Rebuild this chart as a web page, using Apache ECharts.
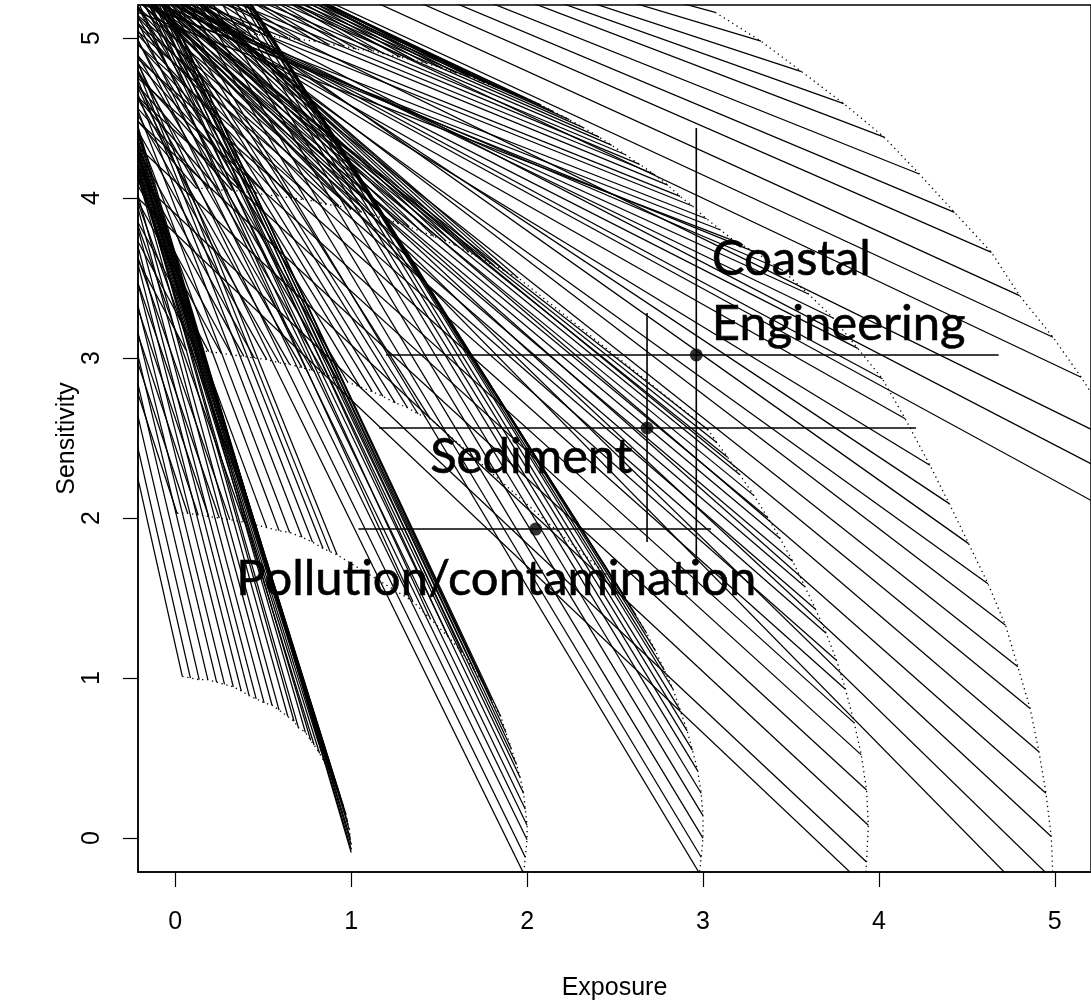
<!DOCTYPE html>
<html><head><meta charset="utf-8">
<script src="https://cdn.jsdelivr.net/npm/echarts@6/dist/echarts.min.js"></script>
<style>html,body{margin:0;padding:0;background:#fff}#c{width:1091px;height:1007px}</style>
</head><body><div id="c"></div>
<script>
// ---- data ----
const ticks = [0, 1, 2, 3, 4, 5];
const startE = -0.213; // exposure where the fan lines enter (left frame)

// group 1 (ends near radius 1)
const g1E = [0.04,0.086,0.136,0.185,0.235,0.28,0.33,0.375,0.42,0.46,0.505,0.55,0.59,0.64,0.675,0.70,0.74,0.77,
             0.79,0.82,0.85,0.88,0.90,0.92,0.94,0.955,0.97,0.98,0.99,0.995,1.0,1.0,1.0];
const g1S = [1.01,1.0,0.99,0.99,0.975,0.96,0.945,0.92,0.89,0.87,0.845,0.83,0.80,0.76,0.73,0.69,0.66,0.61,
             0.58,0.53,0.47,0.41,0.36,0.30,0.25,0.20,0.15,0.10,0.05,0.0,-0.04,-0.07,-0.09];
const g1L = [2.25,2.44,2.64,2.84,3.02,3.16,3.33,3.47,3.59,3.70,3.81,3.94,4.02,4.14,4.19,4.20,4.28,4.29,
             4.15,4.17,4.19,4.21,4.23,4.25,4.27,4.29,4.31,4.33,4.35,4.37,4.40,4.42,4.45];
// group 2 (radius 2)
const g2E = [0.01,0.07,0.13,0.19,0.25,0.31,0.39,0.45,0.52,0.59,0.65,0.72,0.78,0.84,0.88,0.92,
             1.35,1.45,1.55,1.63,1.70,1.75,1.80,1.85,1.88,1.91,1.94,1.96,1.98,1.99,2.0,2.0,1.99,1.98];
const g2S = [2.03,2.03,2.02,2.01,2.0,1.99,1.975,1.96,1.94,1.92,1.91,1.88,1.85,1.81,1.79,1.77,
             1.48,1.37,1.26,1.16,1.05,0.97,0.86,0.76,0.66,0.56,0.46,0.38,0.28,0.18,0.08,-0.01,-0.12,-0.22];
const g2L = [2.78,2.97,3.15,3.31,3.47,3.63,3.83,3.97,4.12,4.28,4.41,4.55,4.65,4.74,4.80,4.85,
             5.23,5.36,5.46,5.53,5.56,5.60,5.59,5.59,5.54,5.49,5.43,5.38,5.30,5.20,5.10,4.99,4.84,4.69];
// group 3 (radius 3)
const g3E = [0.06,0.12,0.19,0.26,0.32,0.39,0.45,0.52,0.59,0.65,0.72,0.78,0.85,0.92,0.98,1.05,1.12,1.18,1.25,1.32,1.38,1.45,
             2.50,2.56,2.62,2.68,2.73,2.78,2.83,2.87,2.91,2.94,2.97,2.99,3.0,3.0,2.99,2.98];
const g3S = [3.05,3.05,3.04,3.03,3.02,3.01,3.00,2.99,2.97,2.96,2.94,2.92,2.90,2.87,2.85,2.82,2.79,2.76,2.72,2.69,2.65,2.62,
             1.60,1.50,1.39,1.28,1.17,1.05,0.93,0.80,0.67,0.55,0.42,0.28,0.14,0.0,-0.12,-0.22];
const g3L = [3.61,3.73,3.85,3.98,4.08,4.20,4.30,4.42,4.52,4.62,4.71,4.80,4.89,4.98,5.05,5.13,5.20,5.27,5.32,5.40,5.44,5.51,
             6.27,6.30,6.32,6.34,6.35,6.35,6.35,6.32,6.29,6.23,6.18,6.08,5.99,5.85,5.74,5.62];
// group 4 (radius 4)
const g4E = [0.12,0.19,0.25,0.32,0.39,0.46,0.52,0.59,0.66,0.73,0.79,0.86,0.93,1.00,1.06,1.13,1.20,1.27,1.33,1.40,1.47,1.54,1.60,1.67,1.74,1.81,1.88,1.95,
             3.03,3.08,3.14,3.21,3.29,3.37,3.44,3.51,3.58,3.64,3.70,3.76,3.81,3.86,3.90,3.93,3.94,3.93,3.92];
const g4S = [4.06,4.06,4.05,4.05,4.04,4.03,4.02,4.01,4.00,3.99,3.98,3.96,3.95,3.93,3.91,3.89,3.87,3.84,3.82,3.79,3.76,3.73,3.70,3.66,3.62,3.58,3.54,3.50,
             2.55,2.47,2.38,2.27,2.14,2.00,1.87,1.73,1.57,1.43,1.28,1.11,0.93,0.72,0.52,0.30,0.08,-0.15,-0.30];
const g4L = [4.48,4.56,4.62,4.70,4.77,4.84,4.89,4.96,5.02,5.08,5.13,5.18,5.24,5.29,5.32,5.37,5.41,5.44,5.47,5.50,5.53,5.55,5.57,5.58,5.57,5.58,5.57,5.55,
             5.34,5.34,5.33,5.32,5.29,5.26,5.23,5.19,5.14,5.09,5.04,4.96,4.87,4.75,4.63,4.48,4.32,4.12,4.0];
// group 5 (radius 5)
const g5E = [0.08,0.15,0.24,0.31,0.40,0.47,0.55,0.64,0.71,0.80,0.87,0.96,1.03,1.12,1.19,1.28,1.36,1.43,1.52,1.60,
             1.67,1.76,1.83,1.92,2.00,2.08,2.15,2.24,2.32,2.41,2.48,2.56,2.64,2.72,2.80,2.87,2.94,3.02,3.10,3.18,
             3.30,3.45,3.60,3.74,3.88,4.02,4.15,
             4.29,4.40,4.51,4.62,4.72,4.79,4.86,4.91,4.95,4.98,4.99,4.97];
const g5S = [5.05,5.05,5.04,5.03,5.03,5.02,5.01,5.00,4.99,4.98,4.96,4.95,4.93,4.92,4.90,4.88,4.86,4.84,4.81,4.78,
             4.76,4.72,4.69,4.65,4.62,4.58,4.54,4.49,4.44,4.38,4.33,4.27,4.21,4.15,4.08,4.01,3.95,3.87,3.80,3.73,
             3.66,3.55,3.40,3.25,3.06,2.87,2.62,
             2.33,2.09,1.84,1.59,1.33,1.07,0.81,0.54,0.28,0.01,-0.26,-0.50];
const g5L = [5.27,5.32,5.38,5.41,5.47,5.50,5.54,5.59,5.62,5.66,5.67,5.71,5.73,5.76,5.77,5.79,5.80,5.81,5.82,5.81,
             5.81,5.81,5.79,5.78,5.77,5.75,5.72,5.69,5.66,5.64,5.60,5.55,5.52,5.47,5.44,5.37,5.34,5.26,5.22,5.16,
             5.23,5.27,5.31,5.35,5.35,5.37,5.33,
             5.35,5.46,5.52,5.41,5.47,5.42,5.38,5.36,5.29,5.31,5.31,5.30];
// group 6 (radius 6)
const g6E = [3.07,3.33,3.56,3.80,4.03,4.23,4.43,4.64,4.80,4.99,5.15,5.40,5.52,5.64];
const g6S = [5.16,4.98,4.79,4.59,4.38,4.15,3.91,3.66,3.39,3.13,2.88,2.45,2.16,1.85];
const g6L = [6.14,6.15,6.15,6.16,6.16,6.10,6.05,5.99,5.90,5.78,5.67,5.48,5.43,5.36];

// sector means with spread bars
const sectorE = [2.962, 2.682, 2.049];
const sectorS = [3.019, 2.5625, 1.931];
const barELo = [1.198, 1.159, 1.041];
const barEHi = [4.681, 4.211, 3.046];
const barSLo = [1.719, 1.85, null];
const barSHi = [4.4375, 3.281, null];

const labelText = ['Coastal', 'Engineering', 'Sediment', 'Pollution/contamination'];
const labelE = [3.05, 3.05, 1.449, 0.347];
const labelS = [3.62, 3.21, 2.381, 1.619];

// ---- build chart ----
const groups = [[g1E,g1S,g1L],[g2E,g2S,g2L],[g3E,g3S,g3L],[g4E,g4S,g4L],[g5E,g5S,g5L],[g6E,g6S,g6L]];
const series = [];
const base = {type:'line', symbol:'none', silent:true, animation:false, clip:true};
groups.forEach(([E,S,L]) => {
  E.forEach((e,i) => {
    series.push(Object.assign({}, base, {
      data: [[startE, L[i]], [e, S[i]]],
      lineStyle: {color:'#000', width:1.25}, z:2
    }));
  });
  series.push(Object.assign({}, base, {
    data: E.map((e,i)=>[e,S[i]]),
    lineStyle: {color:'#000', width:1.3, type:[1.3,3.7]}, z:3
  }));
});
sectorE.forEach((e,i) => {
  series.push(Object.assign({}, base, {data:[[barELo[i], sectorS[i]],[barEHi[i], sectorS[i]]], lineStyle:{color:'#000', width:1.6}, z:4}));
  if (barSLo[i] !== null) {
    series.push(Object.assign({}, base, {data:[[e, barSLo[i]],[e, barSHi[i]]], lineStyle:{color:'#000', width:1.6}, z:4}));
  }
});
series.push({type:'scatter', silent:true, animation:false, symbolSize:13, itemStyle:{color:'#000'}, z:5,
  data: sectorE.map((e,i)=>[e, sectorS[i]])});
series.push({type:'custom', silent:true, animation:false, z:6, clip:false,
  data: labelE.map((e,i)=>[e, labelS[i], i]),
  renderItem: (params, api) => {
    const p = api.coord([api.value(0), api.value(1)]);
    return {type:'text', x:p[0], y:p[1], style:{
      text: labelText[api.value(2)], fill:'#000', font:'normal 49px Lato',
      align:'left', verticalAlign:'middle', stroke:'#000', lineWidth:0.6}};
  }});

const axisFont = {fontFamily:'Liberation Sans', fontSize:25, color:'#000'};
const chart = echarts.init(document.getElementById('c'), null, {renderer:'canvas'});
chart.setOption({
  animation:false,
  backgroundColor:'#fff',
  grid:{left:138, top:5, right:-15, bottom:135, show:true, borderColor:'#000', borderWidth:1.5, backgroundColor:'transparent'},
  xAxis:{type:'value', min:-0.212, max:5.206, splitLine:{show:false},
    axisLine:{show:true, onZero:false, lineStyle:{color:'#000', width:1.5}},
    axisTick:{show:true, customValues:ticks, length:15, lineStyle:{color:'#000', width:1.2}},
    axisLabel:Object.assign({customValues:ticks, margin:38}, axisFont),
    name:'Exposure', nameLocation:'middle', nameGap:104, nameMoveOverlap:false, nameTextStyle:axisFont},
  yAxis:{type:'value', min:-0.212, max:5.206, splitLine:{show:false},
    axisLine:{show:true, onZero:false, lineStyle:{color:'#000', width:1.5}},
    axisTick:{show:true, customValues:ticks, length:15, lineStyle:{color:'#000', width:1.2}},
    axisLabel:Object.assign({customValues:ticks, margin:33, rotate:90}, axisFont),
    name:'Sensitivity', nameLocation:'middle', nameGap:58, nameMoveOverlap:false, nameRotate:90, nameTextStyle:axisFont},
  series: series
});
</script>
</body></html>
